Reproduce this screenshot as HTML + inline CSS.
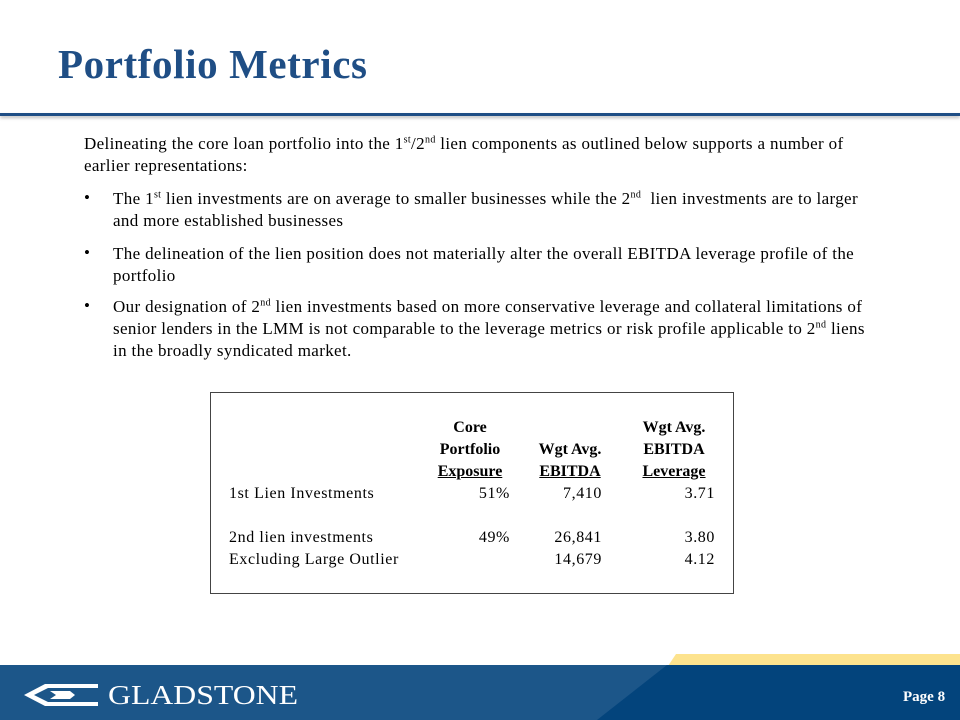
<!DOCTYPE html>
<html><head><style>
body{margin:0;width:960px;height:720px;position:relative;overflow:hidden;background:#fff;font-family:"Liberation Serif",serif;color:#000}
.t{position:absolute;left:58px;top:40px;font-size:41px;font-weight:bold;color:#1f4e85;letter-spacing:0.6px}
.rule{position:absolute;left:0;top:113px;width:960px;height:3px;background:#1f4e85;box-shadow:0 2px 3px #bbb}
.p{position:absolute;left:84px;font-size:17px;line-height:22px;white-space:nowrap;letter-spacing:0.35px}
.b{position:absolute;left:84px;font-size:17px}
sup{font-size:10px;line-height:0}
.box{position:absolute;left:210px;top:392px;width:522px;height:200px;border:1.5px solid #444}
.c{position:absolute;font-size:16px;line-height:22px;letter-spacing:0.6px;white-space:nowrap}
.h{font-weight:bold;letter-spacing:0}
.u{text-decoration:underline}
</style></head><body>
<div class="t">Portfolio Metrics</div>
<div class="rule"></div>
<div class="p" style="top:133px">Delineating the core loan portfolio into the 1<sup>st</sup>/2<sup>nd</sup> lien components as outlined below supports a number of<br>earlier representations:</div>
<div class="b" style="top:188px">•</div>
<div class="p" style="top:188px;left:113px">The 1<sup>st</sup> lien investments are on average to smaller businesses while the 2<sup>nd</sup>&nbsp; lien investments are to larger<br>and more established businesses</div>
<div class="b" style="top:243px">•</div>
<div class="p" style="top:243px;left:113px">The delineation of the lien position does not materially alter the overall EBITDA leverage profile of the<br>portfolio</div>
<div class="b" style="top:296px">•</div>
<div class="p" style="top:296px;left:113px">Our designation of 2<sup>nd</sup> lien investments based on more conservative leverage and collateral limitations of<br>senior lenders in the LMM is not comparable to the leverage metrics or risk profile applicable to 2<sup>nd</sup> liens<br>in the broadly syndicated market.</div>
<div class="box"></div>
<div class="c h" style="left:420px;top:417px;width:100px;text-align:center">Core<br>Portfolio<br><span class="u">Exposure</span></div>
<div class="c h" style="left:520px;top:439px;width:100px;text-align:center">Wgt Avg.<br><span class="u">EBITDA</span></div>
<div class="c h" style="left:624px;top:417px;width:100px;text-align:center">Wgt Avg.<br>EBITDA<br><span class="u">Leverage</span></div>
<div class="c" style="left:229px;top:483px">1st Lien Investments</div>
<div class="c" style="left:229px;top:527px">2nd lien investments</div>
<div class="c" style="left:229px;top:549px">Excluding Large Outlier</div>
<div class="c" style="left:420px;top:483px;width:90px;text-align:right">51%</div>
<div class="c" style="left:420px;top:527px;width:90px;text-align:right">49%</div>
<div class="c" style="left:510px;top:483px;width:92px;text-align:right">7,410</div>
<div class="c" style="left:510px;top:527px;width:92px;text-align:right">26,841</div>
<div class="c" style="left:510px;top:549px;width:92px;text-align:right">14,679</div>
<div class="c" style="left:620px;top:483px;width:95px;text-align:right">3.71</div>
<div class="c" style="left:620px;top:527px;width:95px;text-align:right">3.80</div>
<div class="c" style="left:620px;top:549px;width:95px;text-align:right">4.12</div>
<svg style="position:absolute;left:0;top:640px" width="960" height="80">
<polygon points="676,14 960,14 960,26 668,26" fill="#fde38e"/>
<rect x="0" y="25" width="960" height="55" fill="#1c5689"/>
<polygon points="667,25 960,25 960,80 597,80" fill="#03447c"/>
<g fill="#fff"><polygon points="24,55 45,44 98,44 98,48 48,48 34,55 48,62 98,62 98,66 45,66"/><polygon points="50,51 70,51 75,55 70,59 50,59 56,55" /></g>
<text x="108" y="64" font-family="Liberation Serif" font-size="27" fill="#fff" textLength="190" lengthAdjust="spacingAndGlyphs">GLADSTONE</text>
<text x="903" y="61" font-family="Liberation Serif" font-size="15" font-weight="bold" fill="#fff">Page 8</text>
</svg>
</body></html>
